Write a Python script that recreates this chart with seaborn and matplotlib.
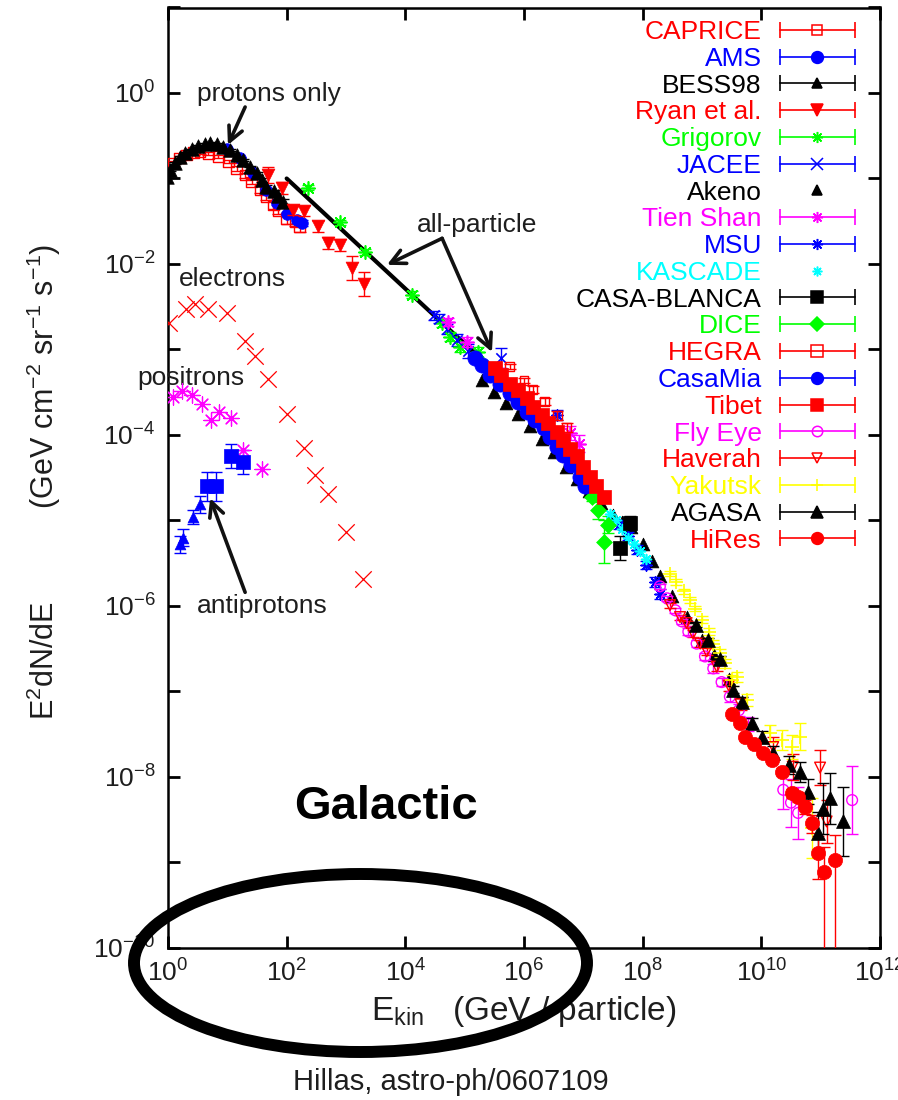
import numpy as np
import pandas as pd
import matplotlib
matplotlib.use("Agg")
import matplotlib.pyplot as plt
import seaborn as sns
from matplotlib.lines import Line2D
from matplotlib.legend_handler import HandlerLine2D, HandlerTuple
from matplotlib.patches import Ellipse
from matplotlib.ticker import FixedLocator, FuncFormatter, NullLocator

# ---------------- data (log10 E [GeV], log10 E^2 dN/dE) ----------------
caprice_logE = [0.09, 0.20, 0.31, 0.43, 0.54, 0.68, 0.85, 1.02, 1.16, 1.30, 1.41, 1.55, 1.66, 1.78, 1.86, 2.00, 2.14, 2.22]
caprice_logF = [-0.82, -0.76, -0.725, -0.70, -0.69, -0.705, -0.745, -0.80, -0.88, -0.96, -1.04, -1.13, -1.21, -1.31, -1.37, -1.47, -1.50, -1.56]
caprice_dlog = [0.02, 0.02, 0.02, 0.02, 0.02, 0.02, 0.02, 0.02, 0.03, 0.03, 0.03, 0.04, 0.04, 0.05, 0.05, 0.06, 0.06, 0.06]

ams_logE = [0.99, 1.21, 1.44, 1.66, 1.83, 2.00, 2.17, 2.25]
ams_logF = [-0.65, -0.76, -0.94, -1.13, -1.29, -1.41, -1.49, -1.52]
ams_dlog = [0.01, 0.01, 0.01, 0.02, 0.02, 0.02, 0.03, 0.03]

bess_logE = [-0.02, 0.03, 0.12, 0.20, 0.29, 0.40, 0.51, 0.62, 0.71, 0.82, 0.93, 1.05, 1.16, 1.27, 1.38, 1.50, 1.58, 1.66, 1.78, 1.86, 1.94]
bess_logF = [-0.98, -0.90, -0.82, -0.75, -0.705, -0.66, -0.62, -0.60, -0.58, -0.60, -0.63, -0.67, -0.725, -0.78, -0.86, -0.94, -1.02, -1.10, -1.15, -1.21, -1.27]
bess_dlog = [0.01, 0.01, 0.01, 0.01, 0.01, 0.01, 0.01, 0.01, 0.01, 0.01, 0.01, 0.01, 0.01, 0.01, 0.01, 0.02, 0.02, 0.02, 0.02, 0.03, 0.03]

ryan_logE = [1.69, 1.92, 2.11, 2.29, 2.52, 2.70, 2.90, 3.10, 3.30]
ryan_logF = [-0.96, -1.115, -1.37, -1.38, -1.56, -1.76, -1.78, -2.05, -2.23]
ryan_dlog = [0.09, 0.07, 0.06, 0.06, 0.06, 0.07, 0.07, 0.14, 0.14]

grig_logE = [2.36, 2.90, 3.32, 4.11, 4.61, 4.75, 4.92, 5.23]
grig_logF = [-1.11, -1.51, -1.86, -2.36, -2.69, -2.85, -2.97, -3.03]
grig_dlog = [0.03, 0.03, 0.03, 0.04, 0.05, 0.05, 0.06, 0.06]

jacee_logE = [4.48, 4.56, 4.70, 4.87, 5.05, 5.62]
jacee_logF = [-2.60, -2.64, -2.76, -2.89, -3.02, -3.10]
jacee_dlog = [0.05, 0.05, 0.06, 0.07, 0.08, 0.12]

akeno_logE = [5.3, 5.5, 5.7, 5.9, 6.1, 6.3, 6.5, 6.7, 6.9, 7.1, 7.3, 7.5, 7.65, 7.8, 8.0, 8.15, 8.3, 8.5, 8.75, 9.0, 9.2, 9.45]
akeno_logF = [-3.36, -3.50, -3.62, -3.75, -3.90, -4.05, -4.20, -4.37, -4.52, -4.66, -4.80, -4.93, -5.02, -5.08, -5.28, -5.47, -5.65, -5.88, -6.13, -6.40, -6.57, -6.85]

tien_logE = [4.72, 5.04, 5.60, 6.78, 6.92]
tien_logF = [-2.68, -2.91, -3.30, -3.98, -4.10]
tien_dlog = [0.05, 0.06, 0.08, 0.08, 0.10]

msu_logE = [6.55, 7.60, 7.75, 7.90, 8.05, 8.20, 8.30]
msu_logF = [-3.77, -5.05, -5.18, -5.34, -5.52, -5.72, -5.86]
msu_dlog = [0.06, 0.05, 0.05, 0.05, 0.05, 0.06, 0.06]

kascade_logE = [7.45, 7.55, 7.65, 7.75, 7.85, 7.95, 8.05]
kascade_logF = [-4.92, -5.00, -5.10, -5.20, -5.28, -5.36, -5.45]

casab_logE = [7.62, 7.79]
casab_logF = [-5.32, -5.03]
casab_dlog = [0.14, 0.08]

dice_logE = [7.15, 7.25, 7.34, 7.42]
dice_logF = [-4.72, -4.88, -5.25, -5.05]
dice_dlog = [0.05, 0.10, 0.25, 0.10]

hegra_logE = [5.76, 6.00, 6.15, 6.35, 6.56, 6.72]
hegra_logF = [-3.20, -3.36, -3.47, -3.61, -3.77, -3.91]
hegra_dlog = [0.03, 0.03, 0.04, 0.04, 0.05, 0.05]

casamia_logE = [5.17, 5.29, 5.43, 5.60, 5.76, 5.90, 6.05, 6.18, 6.33, 6.44, 6.55, 6.66, 6.80, 6.94, 7.02]
casamia_logF = [-3.10, -3.18, -3.30, -3.40, -3.51, -3.61, -3.73, -3.82, -3.92, -4.02, -4.14, -4.23, -4.35, -4.49, -4.60]
casamia_dlog = [0.02, 0.02, 0.02, 0.02, 0.02, 0.02, 0.02, 0.02, 0.02, 0.02, 0.02, 0.03, 0.03, 0.03, 0.04]

tibet_logE = [5.51, 5.62, 5.76, 5.90, 6.05, 6.16, 6.30, 6.41, 6.55, 6.66, 6.78, 6.89, 7.00, 7.11, 7.22, 7.34]
tibet_logF = [-3.22, -3.30, -3.40, -3.47, -3.57, -3.67, -3.77, -3.86, -3.96, -4.06, -4.16, -4.25, -4.37, -4.49, -4.60, -4.72]
tibet_dlog = [0.02, 0.02, 0.02, 0.02, 0.02, 0.02, 0.02, 0.02, 0.02, 0.02, 0.02, 0.02, 0.03, 0.03, 0.03, 0.03]

flyeye_logE = [8.29, 8.41, 8.55, 8.66, 8.77, 8.91, 9.05, 9.19, 9.33, 9.47, 9.62, 9.78, 10.37, 10.50, 10.62, 11.53]
flyeye_logF = [-5.77, -5.91, -6.05, -6.18, -6.30, -6.44, -6.59, -6.73, -6.89, -7.06, -7.22, -7.38, -8.15, -8.30, -8.42, -8.27]
flyeye_dlog = [0.03, 0.03, 0.03, 0.03, 0.04, 0.04, 0.04, 0.05, 0.05, 0.06, 0.07, 0.08, 0.22, 0.28, 0.30, 0.40]

haverah_logE = [8.46, 8.63, 8.74, 8.85, 8.97, 9.08, 9.25, 9.45, 9.65, 10.20, 10.53, 10.99, 11.10]
haverah_logF = [-5.99, -6.13, -6.20, -6.32, -6.44, -6.53, -6.71, -6.93, -7.15, -7.65, -7.88, -7.89, -8.52]
haverah_dlog = [0.03, 0.03, 0.03, 0.04, 0.04, 0.04, 0.05, 0.06, 0.07, 0.12, 0.15, 0.20, 0.25]

yakutsk_logE = [8.46, 8.57, 8.69, 8.80, 8.88, 9.00, 9.11, 9.19, 9.30, 9.39, 9.50, 9.59, 9.76, 10.15, 10.35, 10.52, 10.65, 10.85]
yakutsk_logF = [-5.62, -5.72, -5.83, -5.93, -6.03, -6.16, -6.30, -6.44, -6.55, -6.67, -6.87, -6.83, -7.10, -7.49, -7.57, -7.65, -7.53, -8.60]
yakutsk_dlog = [0.03, 0.03, 0.03, 0.03, 0.03, 0.04, 0.04, 0.04, 0.05, 0.05, 0.06, 0.06, 0.07, 0.10, 0.12, 0.14, 0.16, 0.35]

agasa_logE = [8.90, 9.10, 9.30, 9.53, 9.67, 9.84, 10.01, 10.20, 10.46, 10.65, 10.79, 10.96, 11.04, 11.16, 11.38]
agasa_logF = [-6.22, -6.40, -6.62, -6.98, -7.12, -7.37, -7.53, -7.72, -7.86, -7.94, -8.17, -8.66, -8.37, -8.25, -8.52]
agasa_dlog = [0.03, 0.03, 0.04, 0.04, 0.05, 0.06, 0.07, 0.08, 0.10, 0.12, 0.15, 0.25, 0.30, 0.30, 0.40]

hires_logE = [9.50, 9.64, 9.73, 9.87, 10.03, 10.18, 10.34, 10.51, 10.62, 10.74, 10.85, 10.96, 11.05, 11.24]
hires_logF = [-7.26, -7.37, -7.53, -7.61, -7.72, -7.80, -7.94, -8.19, -8.23, -8.35, -8.54, -8.89, -9.11, -8.97]
hires_dlo = [0.02, 0.02, 0.02, 0.03, 0.03, 0.03, 0.04, 0.05, 0.06, 0.08, 0.12, 0.30, 1.50, 1.50]
hires_dhi = [0.02, 0.02, 0.02, 0.03, 0.03, 0.03, 0.04, 0.05, 0.06, 0.08, 0.10, 0.20, 0.29, 0.29]

electron_logE = [0.01, 0.30, 0.46, 0.68, 0.99, 1.30, 1.47, 1.69, 2.01, 2.29, 2.48, 2.70, 3.00, 3.29]
electron_logF = [-2.69, -2.53, -2.47, -2.53, -2.57, -2.90, -3.08, -3.34, -3.75, -4.15, -4.47, -4.69, -5.13, -5.68]

positron_logE = [0.08, 0.23, 0.40, 0.57, 0.72, 0.86, 1.07, 1.27, 1.58]
positron_logF = [-3.55, -3.48, -3.53, -3.64, -3.82, -3.73, -3.80, -4.18, -4.40]

pbar_tri_logE = [0.20, 0.26, 0.42, 0.54]
pbar_tri_logF = [-5.28, -5.20, -4.96, -4.81]
pbar_tri_dlog = [0.10, 0.10, 0.08, 0.10]
pbar_sq_logE = [0.65, 0.81, 1.06, 1.26]
pbar_sq_logF = [-4.60, -4.60, -4.25, -4.32]
pbar_sq_dlog = [0.17, 0.17, 0.14, 0.14]

allpart_logE = [2.0, 5.6]
allpart_logF = [-1.0, -3.32]

legend_labels = ["CAPRICE", "AMS", "BESS98", "Ryan et al.", "Grigorov", "JACEE", "Akeno",
                 "Tien Shan", "MSU", "KASCADE", "CASA-BLANCA", "DICE", "HEGRA", "CasaMia",
                 "Tibet", "Fly Eye", "Haverah", "Yakutsk", "AGASA", "HiRes"]

# ---------------- style ----------------
sns.set_theme(style="white")
plt.rcParams["font.family"] = ["Liberation Sans", "DejaVu Sans"]
plt.rcParams["mathtext.fontset"] = "custom"
plt.rcParams["mathtext.rm"] = "Liberation Sans"
plt.rcParams["mathtext.it"] = "Liberation Sans:italic"
plt.rcParams["mathtext.bf"] = "Liberation Sans:bold"

RED, BLUE, GREEN, MAG, CYAN, YEL, BLK = "#ff0000", "#0000ff", "#00ff00", "#ff00ff", "#00ffff", "#ffff00", "#000000"
AST = (8, 2, 0)

W, H = 898, 1100
fig = plt.figure(figsize=(W / 100, H / 100), dpi=100)
fig.patch.set_facecolor("white")
ax = fig.add_axes([168 / W, 1 - 948 / H, 712 / W, 940.5 / H])
ax.set_xscale("log")
ax.set_yscale("log")
ax.set_xlim(1e0, 1e12)
ax.set_ylim(1e-10, 1e1)
ax.set_facecolor("white")


def draw(lx, ly, color, marker, size, fill="full", dlo=None, dhi=None, lw=1.0, z=3):
    lx = np.asarray(lx, float)
    ly = np.asarray(ly, float)
    E = 10.0 ** lx
    F = 10.0 ** ly
    if dlo is not None:
        dlo = np.asarray(dlo, float)
        dhi = dlo if dhi is None else np.asarray(dhi, float)
        lo = F - 10.0 ** (ly - dlo)
        hi = 10.0 ** (ly + dhi) - F
        ax.errorbar(E, F, yerr=[lo, hi], fmt="none", ecolor=color, elinewidth=1.0,
                    capsize=4, capthick=1.0, zorder=z)
    df = pd.DataFrame({"E": E, "F": F})
    kws = dict(marker=marker, s=size, zorder=z + 0.1, legend=False, ax=ax)
    if fill == "full":
        sns.scatterplot(data=df, x="E", y="F", color=color, edgecolor=color, linewidth=0.5, **kws)
    elif fill == "open":
        sns.scatterplot(data=df, x="E", y="F", facecolor="none", edgecolor=color, linewidth=lw, **kws)
    else:
        sns.scatterplot(data=df, x="E", y="F", color=color, linewidth=lw, **kws)


# not-in-legend low-energy species
draw(electron_logE, electron_logF, RED, "x", 140, fill="line", lw=0.9)
draw(positron_logE, positron_logF, MAG, AST, 120, fill="line", lw=0.9)
draw(pbar_tri_logE, pbar_tri_logF, BLUE, "^", 60, dlo=pbar_tri_dlog)
draw(pbar_sq_logE, pbar_sq_logF, BLUE, "s", 110, dlo=pbar_sq_dlog)

# all-particle line
sns.lineplot(x=10.0 ** np.array(allpart_logE), y=10.0 ** np.array(allpart_logF), color="black",
             linewidth=3.0, ax=ax, sort=False, zorder=2.5)

# legend series (gnuplot order)
series = [
    (caprice_logE, caprice_logF, caprice_dlog, None, RED, "s", 60, "open", 7.0, True),
    (ams_logE, ams_logF, ams_dlog, None, BLUE, "o", 70, "full", 8.5, True),
    (bess_logE, bess_logF, bess_dlog, None, BLK, "^", 95, "full", 7.5, True),
    (ryan_logE, ryan_logF, ryan_dlog, None, RED, "v", 85, "full", 8.0, True),
    (grig_logE, grig_logF, grig_dlog, None, GREEN, AST, 90, "line", 8.0, True),
    (jacee_logE, jacee_logF, jacee_dlog, None, BLUE, "x", 55, "line", 8.0, True),
    (akeno_logE, akeno_logF, None, None, BLK, "^", 85, "full", 7.5, False),
    (tien_logE, tien_logF, tien_dlog, None, MAG, AST, 90, "line", 8.0, True),
    (msu_logE, msu_logF, msu_dlog, None, BLUE, AST, 60, "line", 8.0, True),
    (kascade_logE, kascade_logF, None, None, CYAN, AST, 50, "line", 7.0, False),
    (casab_logE, casab_logF, casab_dlog, None, BLK, "s", 90, "full", 8.0, True),
    (dice_logE, dice_logF, dice_dlog, None, GREEN, "D", 65, "full", 7.5, True),
    (hegra_logE, hegra_logF, hegra_dlog, None, RED, "s", 40, "open", 8.0, True),
    (casamia_logE, casamia_logF, casamia_dlog, None, BLUE, "o", 120, "full", 8.5, True),
    (tibet_logE, tibet_logF, tibet_dlog, None, RED, "s", 115, "full", 8.5, True),
    (flyeye_logE, flyeye_logF, flyeye_dlog, None, MAG, "o", 60, "open", 7.5, True),
    (haverah_logE, haverah_logF, haverah_dlog, None, RED, "v", 60, "open", 7.5, True),
    (yakutsk_logE, yakutsk_logF, yakutsk_dlog, None, YEL, "+", 100, "line", 9.0, True),
    (agasa_logE, agasa_logF, agasa_dlog, None, BLK, "^", 100, "full", 8.5, True),
    (hires_logE, hires_logF, hires_dlo, hires_dhi, RED, "o", 105, "full", 8.5, True),
]

handles = []
hmap = {}
label_colors = []
for i, (lx, ly, dlo, dhi, col, mk, sz, fill, lms, errleg) in enumerate(series):
    is_open = fill == "open"
    draw(lx, ly, col, mk, sz, fill=fill, dlo=dlo, dhi=dhi, lw=1.2 if fill == "line" else 1.0, z=3 + 0.05 * i)
    mline = Line2D([], [], linestyle="none", marker=mk, markersize=lms, color=col,
                   markerfacecolor="none" if is_open else col, markeredgecolor=col,
                   markeredgewidth=1.1)
    hmap[mline] = HandlerLine2D(numpoints=1)
    if errleg:
        cap = Line2D([], [], color=col, linewidth=1.2, marker="|", markersize=11, markeredgewidth=1.2)
        hmap[cap] = HandlerLine2D(numpoints=2, marker_pad=0)
        handles.append((cap, mline))
    else:
        handles.append((mline,))
    label_colors.append(col)

hmap[tuple] = HandlerTuple(ndivide=1, pad=0)
leg = ax.legend(handles, legend_labels, handler_map=hmap, loc="upper right",
                bbox_to_anchor=(855 / W, 1 - 20 / H), bbox_transform=fig.transFigure,
                frameon=False, fontsize=19, markerfirst=False, handlelength=2.85,
                handletextpad=0.68, labelspacing=0.105, borderpad=0, borderaxespad=0,
                handleheight=0.7)
for t, c in zip(leg.get_texts(), label_colors):
    t.set_color(c)
leg.set_zorder(10)

# ---------------- annotations ----------------
TXT = "#1e1e1e"
ax.text(10 ** 0.49, 10 ** -0.094, "protons only", fontsize=19, color=TXT, ha="left", va="baseline")
ax.text(10 ** 0.185, 10 ** -2.257, "electrons", fontsize=19, color=TXT, ha="left", va="baseline")
ax.text(10 ** -0.52, 10 ** -3.415, "positrons", fontsize=19, color=TXT, ha="left", va="baseline", clip_on=False)
ax.text(10 ** 0.49, 10 ** -6.08, "antiprotons", fontsize=19, color=TXT, ha="left", va="baseline")
ax.text(10 ** 4.20, 10 ** -1.626, "all-particle", fontsize=19, color=TXT, ha="left", va="baseline")
ax.text(10 ** 3.67, 10 ** -8.49, "Galactic", fontsize=34, fontweight="bold", color="black",
        ha="center", va="baseline")

arrow_kw = dict(arrowstyle="->", lw=2.6, color="#111111", shrinkA=0, shrinkB=0, mutation_scale=26)
ax.annotate("", xy=(10 ** 1.01, 10 ** -0.608), xytext=(10 ** 1.30, 10 ** -0.164), arrowprops=arrow_kw)
ax.annotate("", xy=(10 ** 3.69, 10 ** -2.01), xytext=(10 ** 4.62, 10 ** -1.70), arrowprops=arrow_kw)
ax.annotate("", xy=(10 ** 5.46, 10 ** -3.03), xytext=(10 ** 4.62, 10 ** -1.70), arrowprops=arrow_kw)
ax.annotate("", xy=(10 ** 0.71, 10 ** -4.74), xytext=(10 ** 1.30, 10 ** -5.84), arrowprops=arrow_kw)

# ---------------- axes, ticks ----------------
ax.xaxis.set_major_locator(FixedLocator(10.0 ** np.arange(0, 13, 2)))
ax.xaxis.set_minor_locator(NullLocator())
ax.xaxis.set_major_formatter(FuncFormatter(lambda v, p: r"$\mathregular{10^{%d}}$" % round(np.log10(v))))
ax.yaxis.set_major_locator(FixedLocator(10.0 ** np.arange(-10, 2, 1)))
ax.yaxis.set_minor_locator(NullLocator())


def yfmt(v, p):
    e = int(round(np.log10(v)))
    return r"$\mathregular{10^{%d}}$" % e if e % 2 == 0 and e <= 0 else ""


ax.yaxis.set_major_formatter(FuncFormatter(yfmt))
ax.tick_params(axis="both", which="major", direction="in", length=8.5, width=2.0,
               labelsize=19, color="black", labelcolor="#1e1e1e")
ax.tick_params(axis="x", top=True, bottom=True, pad=8)
ax.tick_params(axis="y", left=True, right=True, pad=9)
for s in ax.spines.values():
    s.set_color("black")
    s.set_linewidth(1.8)
    s.set_visible(True)
ax.grid(False)

ax.set_xlabel(r"E$_{\mathregular{kin}}$   (GeV / particle)", fontsize=24, color="#1e1e1e")
ax.xaxis.set_label_coords(0.5, -0.049)
ax.set_ylabel("")
fig.text(44 / W, 1 - 482 / H, r"E$^{2}$dN/dE           (GeV cm$^{-2}$ sr$^{-1}$ s$^{-1}$)",
         rotation=90, ha="center", va="center", fontsize=22, color="#1e1e1e")

fig.text(451 / W, 1 - 1090 / H, "Hillas, astro-ph/0607109", ha="center", va="baseline",
         fontsize=21, color="#1e1e1e")

ell = Ellipse((360.5 / W, 1 - 963 / H), width=453 / W, height=178 / H, transform=fig.transFigure,
              fill=False, edgecolor="black", linewidth=8.6, zorder=20)
fig.add_artist(ell)

fig.savefig("out.png", dpi=100, facecolor="white")
